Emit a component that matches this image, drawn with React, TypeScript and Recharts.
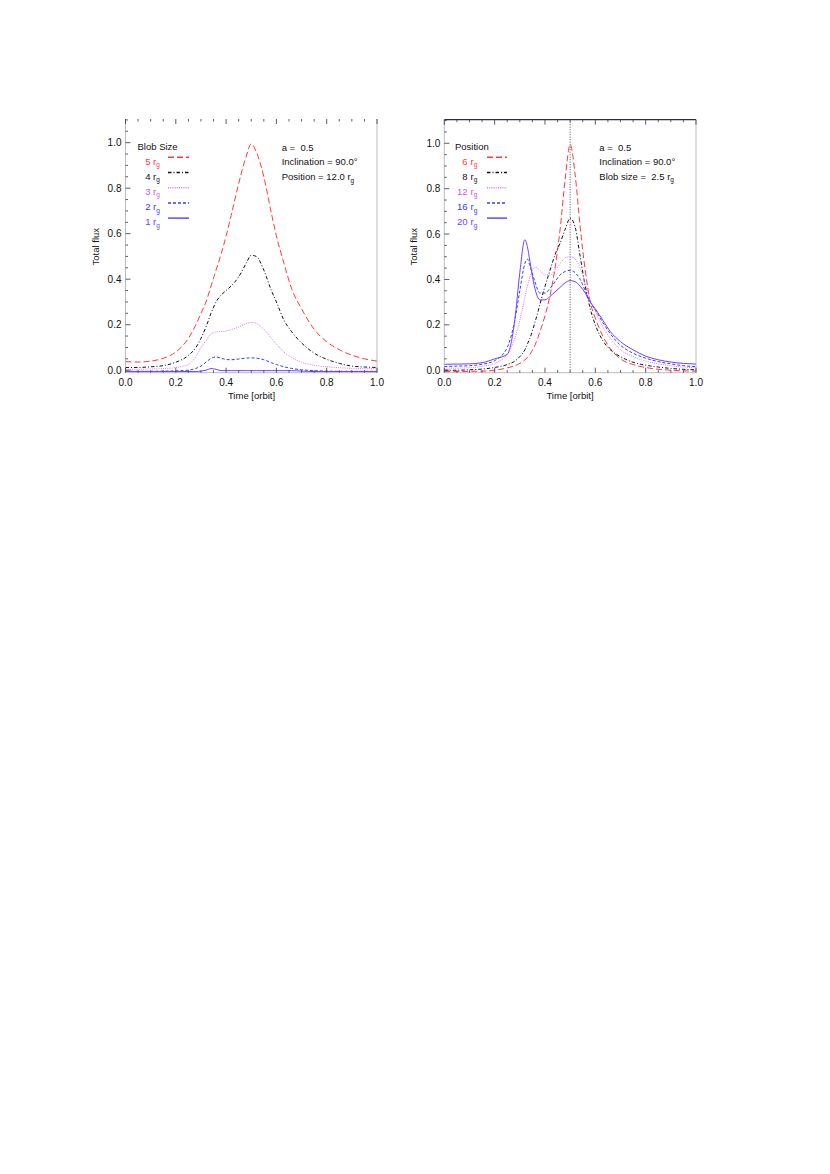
import React from 'react';
import { LineChart, Line, XAxis, YAxis, ReferenceLine } from 'recharts';

const FONT = '"Liberation Sans", Arial, Helvetica, sans-serif';

// ---------- ticks ----------
const X_TICKS = [0, 0.05, 0.1, 0.15, 0.2, 0.25, 0.3, 0.35, 0.4, 0.45, 0.5, 0.55, 0.6, 0.65, 0.7, 0.75, 0.8, 0.85, 0.9, 0.95, 1.0];
const Y_TICKS = [0, 0.05, 0.1, 0.15, 0.2, 0.25, 0.3, 0.35, 0.4, 0.45, 0.5, 0.55, 0.6, 0.65, 0.7, 0.75, 0.8, 0.85, 0.9, 0.95, 1.0, 1.05, 1.1];
const MAJOR_TICKS = [0, 0.2, 0.4, 0.6, 0.8, 1.0];
const MAJOR_LABELS = ['0.0', '0.2', '0.4', '0.6', '0.8', '1.0'];
const Y_DOMAIN: [number, number] = [-0.011, 1.104];

// ---------- left panel: blob size ----------
const timeL = [0, 0.05, 0.1, 0.15, 0.2, 0.25, 0.28, 0.3, 0.32, 0.34, 0.36, 0.38, 0.4, 0.42, 0.45, 0.48, 0.5, 0.52, 0.55, 0.58, 0.6, 0.63, 0.66, 0.7, 0.75, 0.8, 0.85, 0.9, 0.95, 1.0];
const size5 = [0.038, 0.036, 0.04, 0.052, 0.08, 0.14, 0.2, 0.25, 0.3, 0.37, 0.44, 0.51, 0.59, 0.68, 0.82, 0.94, 0.995, 0.96, 0.85, 0.69, 0.59, 0.47, 0.36, 0.27, 0.18, 0.125, 0.09, 0.066, 0.05, 0.04];
const size4 = [0.012, 0.012, 0.015, 0.02, 0.035, 0.065, 0.1, 0.14, 0.19, 0.25, 0.3, 0.33, 0.35, 0.37, 0.41, 0.47, 0.505, 0.5, 0.44, 0.35, 0.3, 0.22, 0.17, 0.12, 0.075, 0.048, 0.03, 0.018, 0.014, 0.012];
const size3 = [0.004, 0.004, 0.005, 0.007, 0.012, 0.025, 0.06, 0.1, 0.13, 0.16, 0.168, 0.17, 0.172, 0.178, 0.19, 0.205, 0.21, 0.205, 0.18, 0.14, 0.115, 0.08, 0.056, 0.035, 0.022, 0.015, 0.011, 0.008, 0.007, 0.006];
const size2 = [-0.005, -0.005, -0.005, -0.004, -0.003, 0.0, 0.008, 0.018, 0.035, 0.052, 0.058, 0.053, 0.047, 0.046, 0.049, 0.053, 0.054, 0.053, 0.046, 0.033, 0.025, 0.015, 0.008, 0.002, -0.002, -0.004, -0.005, -0.005, -0.005, -0.005];
const size1 = [-0.006, -0.006, -0.006, -0.006, -0.006, -0.006, -0.006, -0.004, 0.0, 0.007, 0.004, -0.002, -0.002, -0.002, -0.002, -0.002, -0.002, -0.002, -0.002, -0.002, -0.002, -0.002, -0.002, -0.004, -0.006, -0.006, -0.006, -0.006, -0.006, -0.006];

// ---------- right panel: position ----------
const timeR = [0, 0.05, 0.1, 0.15, 0.2, 0.25, 0.28, 0.3, 0.32, 0.33, 0.34, 0.36, 0.38, 0.4, 0.42, 0.44, 0.46, 0.48, 0.5, 0.52, 0.54, 0.56, 0.58, 0.6, 0.63, 0.66, 0.7, 0.75, 0.8, 0.85, 0.9, 0.95, 1.0];
const pos6 = [-0.006, -0.006, -0.005, -0.004, 0.0, 0.01, 0.02, 0.03, 0.045, 0.057, 0.07, 0.11, 0.17, 0.24, 0.33, 0.45, 0.62, 0.84, 0.995, 0.86, 0.63, 0.44, 0.3, 0.23, 0.15, 0.095, 0.05, 0.025, 0.012, 0.004, 0.0, -0.003, -0.004];
const pos8 = [0.0, 0.0, 0.002, 0.005, 0.012, 0.025, 0.04, 0.06, 0.09, 0.115, 0.14, 0.21, 0.29, 0.37, 0.44, 0.51, 0.56, 0.62, 0.67, 0.63, 0.5, 0.37, 0.27, 0.2, 0.13, 0.09, 0.06, 0.035, 0.022, 0.014, 0.008, 0.004, 0.002];
const pos12 = [0.009, 0.009, 0.011, 0.017, 0.03, 0.07, 0.14, 0.22, 0.32, 0.37, 0.41, 0.455, 0.44, 0.42, 0.42, 0.44, 0.47, 0.495, 0.5, 0.49, 0.45, 0.38, 0.31, 0.26, 0.19, 0.14, 0.09, 0.06, 0.04, 0.028, 0.02, 0.014, 0.011];
const pos16 = [0.016, 0.018, 0.02, 0.026, 0.042, 0.1, 0.22, 0.35, 0.47, 0.49, 0.46, 0.39, 0.34, 0.34, 0.36, 0.39, 0.42, 0.435, 0.44, 0.43, 0.4, 0.35, 0.3, 0.265, 0.21, 0.16, 0.11, 0.075, 0.053, 0.038, 0.028, 0.02, 0.016];
const pos20 = [0.026, 0.027, 0.028, 0.033, 0.05, 0.07, 0.22, 0.43, 0.575, 0.545, 0.48, 0.36, 0.31, 0.31, 0.325, 0.345, 0.365, 0.385, 0.395, 0.39, 0.37, 0.34, 0.3, 0.27, 0.22, 0.17, 0.126, 0.09, 0.062, 0.046, 0.036, 0.03, 0.027];

const dataL = timeL.map((t, i) => ({ t, a: size5[i], b: size4[i], c: size3[i], d: size2[i], e: size1[i] }));
const dataR = timeR.map((t, i) => ({ t, a: pos6[i], b: pos8[i], c: pos12[i], d: pos16[i], e: pos20[i] }));

// ---------- styles ----------
const RED = '#ff3a3a';
const BLACK = '#111122';
const MAGENTA = '#dc78f0';
const BLUE = '#3040ff';
const PURPLE = '#7040ff';

const SERIES = [
  { key: 'a', color: RED, dash: '6 3' },
  { key: 'b', color: BLACK, dash: '3.5 2 1 2' },
  { key: 'c', color: MAGENTA, dash: '1 1.2' },
  { key: 'd', color: BLUE, dash: '3 2' },
  { key: 'e', color: PURPLE, dash: undefined as string | undefined },
];

const LEGEND_L = ['5', '4', '3', '2', '1'];
const LEGEND_R = ['6', '8', '12', '16', '20'];
const LEGEND_TEXT_COLORS = ['#ff3a3a', '#111122', '#cc55ee', '#3040ff', '#7040ff'];

const TICK_COLOR = '#333344';
const AXIS_COLOR = '#aaaaaa';

const isMajor = (v: number) => MAJOR_TICKS.some((m) => Math.abs(m - v) < 1e-6);
const labelOf = (v: number) => {
  const i = MAJOR_TICKS.findIndex((m) => Math.abs(m - v) < 1e-6);
  return i >= 0 ? MAJOR_LABELS[i] : '';
};

function BottomTick(props: any) {
  const { x, y, payload } = props;
  const v = payload.value;
  const len = isMajor(v) ? 5 : 2.5;
  return (
    <g>
      <line x1={x} y1={y} x2={x} y2={y - len} stroke={TICK_COLOR} strokeWidth={0.8} />
      {isMajor(v) && (
        <text x={x} y={y + 13} textAnchor="middle" fontSize={10} fontFamily={FONT} fill="#111">
          {labelOf(v)}
        </text>
      )}
    </g>
  );
}
function TopTick(props: any) {
  const { x, y, payload } = props;
  const len = isMajor(payload.value) ? 5 : 2.5;
  return <line x1={x} y1={y} x2={x} y2={y + len} stroke={TICK_COLOR} strokeWidth={0.8} />;
}
function LeftTick(props: any) {
  const { x, y, payload } = props;
  const v = payload.value;
  const len = isMajor(v) ? 5 : 2.5;
  return (
    <g>
      <line x1={x} y1={y} x2={x + len} y2={y} stroke={TICK_COLOR} strokeWidth={0.8} />
      {isMajor(v) && (
        <text x={x - 4} y={y + 3.6} textAnchor="end" fontSize={10} fontFamily={FONT} fill="#111">
          {labelOf(v)}
        </text>
      )}
    </g>
  );
}
function RightTick(props: any) {
  const { x, y, payload } = props;
  const len = isMajor(payload.value) ? 5 : 2.5;
  return <line x1={x} y1={y} x2={x - len} y2={y} stroke={TICK_COLOR} strokeWidth={0.8} />;
}

function Panel(props: { data: any[]; margin: any; width: number; topLine: boolean; refLine: boolean }) {
  const { data, margin, width, topLine, refLine } = props;
  return (
    <LineChart width={width} height={420} data={data} margin={margin}>
      <XAxis
        xAxisId="bottom"
        dataKey="t"
        type="number"
        domain={[0, 1]}
        ticks={X_TICKS}
        interval={0}
        height={30}
        tickSize={0}
        tickMargin={0}
        tickLine={false}
        axisLine={{ stroke: AXIS_COLOR, strokeWidth: 0.8 }}
        tick={(p: any) => <BottomTick {...p} />}
      />
      <XAxis
        xAxisId="top"
        orientation="top"
        dataKey="t"
        type="number"
        domain={[0, 1]}
        ticks={X_TICKS}
        interval={0}
        height={1}
        tickSize={0}
        tickMargin={0}
        tickLine={false}
        axisLine={topLine ? { stroke: '#2a2a4a', strokeWidth: 1.2 } : false}
        tick={(p: any) => <TopTick {...p} />}
      />
      <YAxis
        yAxisId="left"
        type="number"
        domain={Y_DOMAIN}
        ticks={Y_TICKS}
        interval={0}
        width={30}
        tickSize={0}
        tickMargin={0}
        tickLine={false}
        axisLine={{ stroke: AXIS_COLOR, strokeWidth: 0.8 }}
        tick={(p: any) => <LeftTick {...p} />}
      />
      <YAxis
        yAxisId="right"
        orientation="right"
        type="number"
        domain={Y_DOMAIN}
        ticks={Y_TICKS}
        interval={0}
        width={1}
        tickSize={0}
        tickMargin={0}
        tickLine={false}
        axisLine={{ stroke: AXIS_COLOR, strokeWidth: 0.8 }}
        tick={(p: any) => <RightTick {...p} />}
      />
      {refLine && (
        <ReferenceLine xAxisId="bottom" yAxisId="left" x={0.5} stroke="#222" strokeWidth={0.8} strokeDasharray="1 1.5" />
      )}
      {SERIES.map((s) => (
        <Line
          key={s.key}
          xAxisId="bottom"
          yAxisId="left"
          dataKey={s.key}
          type="monotone"
          stroke={s.color}
          strokeWidth={1}
          strokeDasharray={s.dash}
          dot={false}
          activeDot={false}
          isAnimationActive={false}
        />
      ))}
    </LineChart>
  );
}

function Rg({ x, y, n, color, anchorNum }: { x: number; y: number; n: string; color: string; anchorNum: number }) {
  return (
    <g fill={color}>
      <text x={anchorNum} y={y} textAnchor="end" fontSize={9.5} fontFamily={FONT}>
        {n}
      </text>
      <text x={x} y={y} fontSize={9.5} fontFamily={FONT}>
        r
        <tspan fontSize={6.5} dy={2.5}>g</tspan>
      </text>
    </g>
  );
}

const NB = '\u00a0';

function Overlay() {
  const rows = [0, 1, 2, 3, 4];
  const baseY = 164.5;
  const step = 15.2;
  return (
    <svg width={830} height={420} style={{ position: 'absolute', left: 0, top: 0, pointerEvents: 'none' }}>
      <g fontFamily={FONT} fontSize={9.5} fill="#111">
        {/* left panel */}
        <text x={137.5} y={150.3}>Blob Size</text>
        {rows.map((i) => (
          <g key={'l' + i}>
            <Rg x={153} y={baseY + i * step} n={LEGEND_L[i]} color={LEGEND_TEXT_COLORS[i]} anchorNum={150.5} />
            <path
              d={`M168 ${baseY + i * step - 7.2} H189`}
              fill="none"
              stroke={SERIES[i].color}
              strokeWidth={1.5}
              strokeDasharray={SERIES[i].dash}
            />
          </g>
        ))}
        <text x={281.7} y={150.5}>{'a =' + NB + NB + '0.5'}</text>
        <text x={281.7} y={165}>Inclination = 90.0°</text>
        <text x={281.7} y={180}>
          Position = 12.0 r<tspan fontSize={6.5} dy={2.5}>g</tspan>
        </text>
        <text x={95.7} y={246.7} textAnchor="middle" dominantBaseline="central" transform="rotate(-90 95.7 246.7)">
          Total flux
        </text>
        <text x={251.5} y={398.5} textAnchor="middle">Time [orbit]</text>

        {/* right panel */}
        <text x={455} y={150.3}>Position</text>
        {rows.map((i) => (
          <g key={'r' + i}>
            <Rg x={470.5} y={baseY + i * step} n={LEGEND_R[i]} color={LEGEND_TEXT_COLORS[i]} anchorNum={467.5} />
            <path
              d={`M487 ${baseY + i * step - 7.2} H507`}
              fill="none"
              stroke={SERIES[i].color}
              strokeWidth={1.5}
              strokeDasharray={SERIES[i].dash}
            />
          </g>
        ))}
        <text x={599.3} y={150.5}>{'a =' + NB + NB + '0.5'}</text>
        <text x={599.3} y={165}>Inclination = 90.0°</text>
        <text x={599.3} y={179.5}>
          {'Blob size =' + NB + NB + '2.5 r'}<tspan fontSize={6.5} dy={2.5}>g</tspan>
        </text>
        <text x={413.3} y={246.7} textAnchor="middle" dominantBaseline="central" transform="rotate(-90 413.3 246.7)">
          Total flux
        </text>
        <text x={570} y={398.5} textAnchor="middle">Time [orbit]</text>
      </g>
    </svg>
  );
}

export default function App() {
  return (
    <div style={{ position: 'absolute', left: 0, top: 0, width: 830, height: 1174, background: '#fff' }}>
      <div style={{ position: 'absolute', left: 0, top: 0 }}>
        <Panel data={dataL} width={400} margin={{ top: 118, left: 95.5, right: 22, bottom: 17.3 }} topLine={false} refLine={false} />
      </div>
      <div style={{ position: 'absolute', left: 400, top: 0 }}>
        <Panel data={dataR} width={320} margin={{ top: 118.7, left: 14.3, right: 23, bottom: 17.3 }} topLine={true} refLine={true} />
      </div>
      <Overlay />
    </div>
  );
}
